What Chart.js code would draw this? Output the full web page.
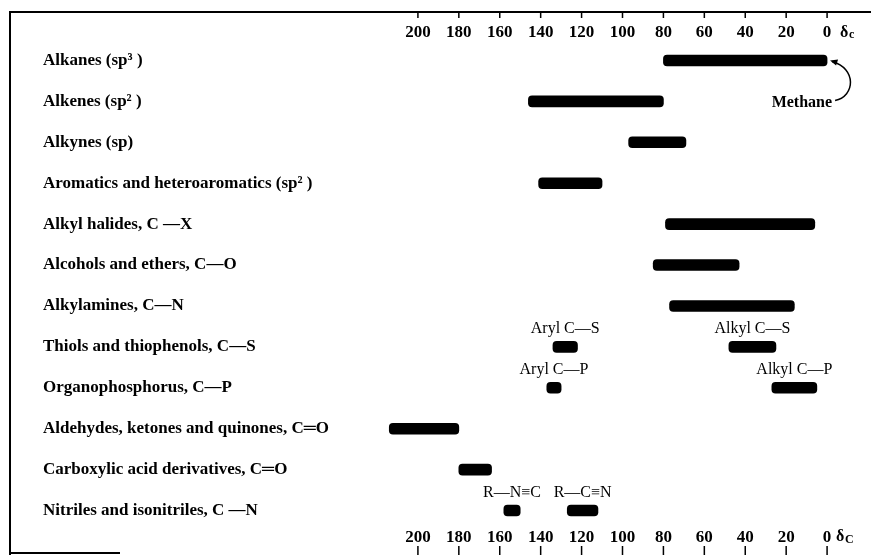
<!DOCTYPE html>
<html>
<head>
<meta charset="utf-8">
<script src="https://cdn.jsdelivr.net/npm/chart.js@4/dist/chart.umd.min.js"></script>
<style>
  html, body { margin: 0; padding: 0; background: #fff; }
  #wrap { width: 871px; height: 555px; position: relative; }
</style>
</head>
<body>
<div id="wrap"><canvas id="shiftChart"></canvas></div>
<script>
// 13C chemical shift ranges (ppm)
const categories = [
  'Alkanes (sp³ )',
  'Alkenes (sp² )',
  'Alkynes (sp)',
  'Aromatics and heteroaromatics (sp² )',
  'Alkyl halides, C —X',
  'Alcohols and ethers, C—O',
  'Alkylamines, C—N',
  'Thiols and thiophenols, C—S',
  'Organophosphorus, C—P',
  'Aldehydes, ketones and quinones, C═O',
  'Carboxylic acid derivatives, C═O',
  'Nitriles and isonitriles, C —N'
];
const mainLow  = [0, 80, 69, 110, 6, 43, 16, 122, 130, 180, 164, 150];
const mainHigh = [80, 146, 97, 141, 79, 85, 77, 134, 137, 214, 180, 158];
// second range on the same row (thiols, organophosphorus, nitriles)
const extraLow  = [null, null, null, null, null, null, null, 25, 5, null, null, 112];
const extraHigh = [null, null, null, null, null, null, null, 48, 27, null, null, 127];
// small labels over the bars
const mainNotes  = [null, null, null, null, null, null, null, 'Aryl C—S', 'Aryl C—P', null, null, 'R—N≡C'];
const extraNotes = [null, null, null, null, null, null, null, 'Alkyl C—S', 'Alkyl C—P', null, null, 'R—C≡N'];
const tickValues = [200, 180, 160, 140, 120, 100, 80, 60, 40, 20, 0];

const serif = "'Liberation Serif', 'DejaVu Serif', serif";

function pairs(lo, hi) {
  return lo.map((v, i) => (v === null ? null : [v, hi[i]]));
}

function keepTicks(scale) {
  scale.ticks = tickValues.map(v => ({ value: v }));
}

const overlay = {
  id: 'overlay',
  afterDraw(chart) {
    const ctx = chart.ctx;
    const xs = chart.scales.x;
    const xb = chart.scales.x2;
    const ys = chart.scales.y;
    ctx.save();
    ctx.strokeStyle = '#000';
    ctx.fillStyle = '#000';

    // scanned frame: top rule and left rule
    ctx.lineWidth = 2;
    ctx.beginPath();
    ctx.moveTo(10, 12); ctx.lineTo(871, 12);
    ctx.moveTo(10, 11); ctx.lineTo(10, 555);
    ctx.moveTo(10, 553); ctx.lineTo(120, 553);
    ctx.stroke();

    // tick marks sit outside the labels
    ctx.lineWidth = 1.5;
    ctx.beginPath();
    xs.ticks.forEach(t => {
      const px = xs.getPixelForValue(t.value);
      ctx.moveTo(px, 12); ctx.lineTo(px, 18);
    });
    xb.ticks.forEach(t => {
      const px = xb.getPixelForValue(t.value);
      ctx.moveTo(px, 546); ctx.lineTo(px, 555);
    });
    ctx.stroke();

    // delta-c unit after the 0 tick
    ctx.textBaseline = 'middle';
    ctx.textAlign = 'left';
    const dx = xs.getPixelForValue(0) + 13;
    ctx.font = 'bold 16px ' + serif;
    ctx.fillText('δ', dx, 33);
    ctx.fillText('δ', dx - 4, 537);
    ctx.font = 'bold 12px ' + serif;
    ctx.fillText('c', dx + 9, 35);
    ctx.fillText('C', dx + 5, 540);

    // range labels above bars
    ctx.textAlign = 'center';
    ctx.font = '16px ' + serif;
    categories.forEach((c, i) => {
      const py = ys.getPixelForValue(i) - 18;
      if (mainNotes[i]) {
        const px = xs.getPixelForValue((mainLow[i] + mainHigh[i]) / 2);
        ctx.fillText(mainNotes[i], px, py);
      }
      if (extraNotes[i]) {
        const px = xs.getPixelForValue((extraLow[i] + extraHigh[i]) / 2);
        ctx.fillText(extraNotes[i], px, py);
      }
    });

    // Methane note with curved arrow to the alkanes bar end
    const ex = xs.getPixelForValue(mainLow[0]);
    const ey = ys.getPixelForValue(0);
    ctx.lineWidth = 1.5;
    ctx.beginPath();
    ctx.moveTo(ex + 5, ey + 1);
    ctx.bezierCurveTo(ex + 30, ey + 8, ex + 28, ey + 36, ex + 8, ey + 40);
    ctx.stroke();
    ctx.beginPath();
    ctx.moveTo(ex + 3, ey);
    ctx.lineTo(ex + 11, ey - 1);
    ctx.lineTo(ex + 9, ey + 5);
    ctx.closePath();
    ctx.fill();
    ctx.textAlign = 'right';
    ctx.font = 'bold 16px ' + serif;
    ctx.fillText('Methane', ex + 5, ey + 42);
    ctx.restore();
  }
};

const axisFont = { family: serif, size: 17, weight: 'bold' };

new Chart(document.getElementById('shiftChart'), {
  type: 'bar',
  data: {
    labels: categories,
    datasets: [{
      data: pairs(mainLow, mainHigh),
      backgroundColor: '#000',
      borderRadius: 4,
      borderSkipped: false,
      barThickness: 11,
      grouped: false
    }, {
      data: pairs(extraLow, extraHigh),
      backgroundColor: '#000',
      borderRadius: 4,
      borderSkipped: false,
      barThickness: 11,
      grouped: false
    }]
  },
  options: {
    indexAxis: 'y',
    responsive: true,
    maintainAspectRatio: false,
    animation: false,
    layout: { padding: { left: 43, right: 3, top: 0, bottom: 0 } },
    plugins: { legend: { display: false }, tooltip: { enabled: false } },
    scales: {
      x: {
        type: 'linear', position: 'top', reverse: true, min: -20, max: 220,
        grid: { display: false, drawTicks: false },
        border: { display: false },
        ticks: { color: '#000', font: axisFont, padding: -3, autoSkip: false, maxRotation: 0 },
        afterBuildTicks: keepTicks,
        afterFit: s => { s.height = 40; }
      },
      x2: {
        type: 'linear', axis: 'x', position: 'bottom', reverse: true, min: -20, max: 220,
        grid: { display: false, drawTicks: false },
        border: { display: false },
        ticks: { color: '#000', font: axisFont, padding: -4, autoSkip: false, maxRotation: 0 },
        afterBuildTicks: keepTicks,
        afterFit: s => { s.height = 24; }
      },
      y: {
        grid: { display: false, drawTicks: false },
        border: { display: false },
        ticks: { color: '#000', crossAlign: 'far', font: { family: serif, size: 17, weight: 'bold' } },
        afterFit: s => { s.width = 334; }
      }
    }
  },
  plugins: [overlay]
});
</script>
</body>
</html>
